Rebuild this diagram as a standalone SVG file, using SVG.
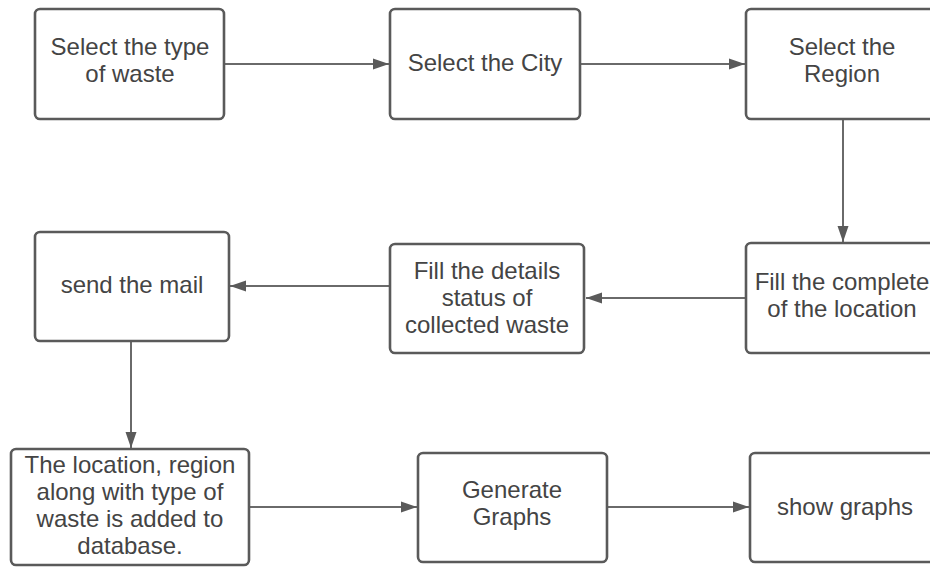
<svg xmlns="http://www.w3.org/2000/svg" width="930" height="567" viewBox="0 0 930 567">
  <defs>
    <style>
      .box { fill: #ffffff; stroke: #5a5a5a; stroke-width: 2.6; }
      .lbl { font-family: "Liberation Sans", Arial, sans-serif; font-size: 24px; fill: #444444; text-anchor: middle; }
      .conn { fill: none; stroke: #6a6a6a; stroke-width: 2; marker-end: url(#arrow); }
    </style>
    <marker id="arrow" markerUnits="userSpaceOnUse" markerWidth="18" markerHeight="14" viewBox="0 0 18 14" refX="17" refY="7" orient="auto">
      <path d="M1,1.5 L17,7 L1,12.5 Z" fill="#5a5a5a"/>
    </marker>
  </defs>
  <rect width="930" height="567" fill="#ffffff"/>

  <g id="connectors">
    <line class="conn" x1="224" y1="64" x2="389" y2="64"/>
    <line class="conn" x1="580" y1="64" x2="745" y2="64"/>
    <line class="conn" x1="843" y1="119" x2="843" y2="242"/>
    <line class="conn" x1="746" y1="298" x2="586" y2="298"/>
    <line class="conn" x1="390" y1="286" x2="230" y2="286"/>
    <line class="conn" x1="131" y1="341" x2="131" y2="448"/>
    <line class="conn" x1="249" y1="507" x2="417" y2="507"/>
    <line class="conn" x1="607" y1="507" x2="749" y2="507"/>
  </g>

  <g id="node-type-of-waste">
    <rect class="box" x="35" y="9" width="189" height="110" rx="5"/>
    <text class="lbl" x="130" y="55">Select the type</text>
    <text class="lbl" x="130" y="82">of waste</text>
  </g>

  <g id="node-city">
    <rect class="box" x="390" y="9" width="190" height="110" rx="5"/>
    <text class="lbl" x="485" y="71">Select the City</text>
  </g>

  <g id="node-region">
    <rect class="box" x="746" y="9" width="194" height="110" rx="5"/>
    <text class="lbl" x="842" y="55">Select the</text>
    <text class="lbl" x="842" y="82">Region</text>
  </g>

  <g id="node-complete-location">
    <rect class="box" x="746" y="243" width="194" height="110" rx="5"/>
    <text class="lbl" x="842" y="290">Fill the complete</text>
    <text class="lbl" x="842" y="317">of the location</text>
  </g>

  <g id="node-fill-details">
    <rect class="box" x="390" y="244" width="194" height="109" rx="5"/>
    <text class="lbl" x="487" y="279">Fill the details</text>
    <text class="lbl" x="487" y="306">status of</text>
    <text class="lbl" x="487" y="333">collected waste</text>
  </g>

  <g id="node-send-mail">
    <rect class="box" x="35" y="232" width="194" height="109" rx="5"/>
    <text class="lbl" x="132" y="293">send the mail</text>
  </g>

  <g id="node-database">
    <rect class="box" x="11" y="449" width="238" height="116" rx="5"/>
    <text class="lbl" x="130" y="473">The location, region</text>
    <text class="lbl" x="130" y="500">along with type of</text>
    <text class="lbl" x="130" y="527">waste is added to</text>
    <text class="lbl" x="130" y="554">database.</text>
  </g>

  <g id="node-generate-graphs">
    <rect class="box" x="418" y="453" width="189" height="109" rx="5"/>
    <text class="lbl" x="512" y="498">Generate</text>
    <text class="lbl" x="512" y="525">Graphs</text>
  </g>

  <g id="node-show-graphs">
    <rect class="box" x="750" y="453" width="192" height="109" rx="5"/>
    <text class="lbl" x="845" y="515">show graphs</text>
  </g>
</svg>
